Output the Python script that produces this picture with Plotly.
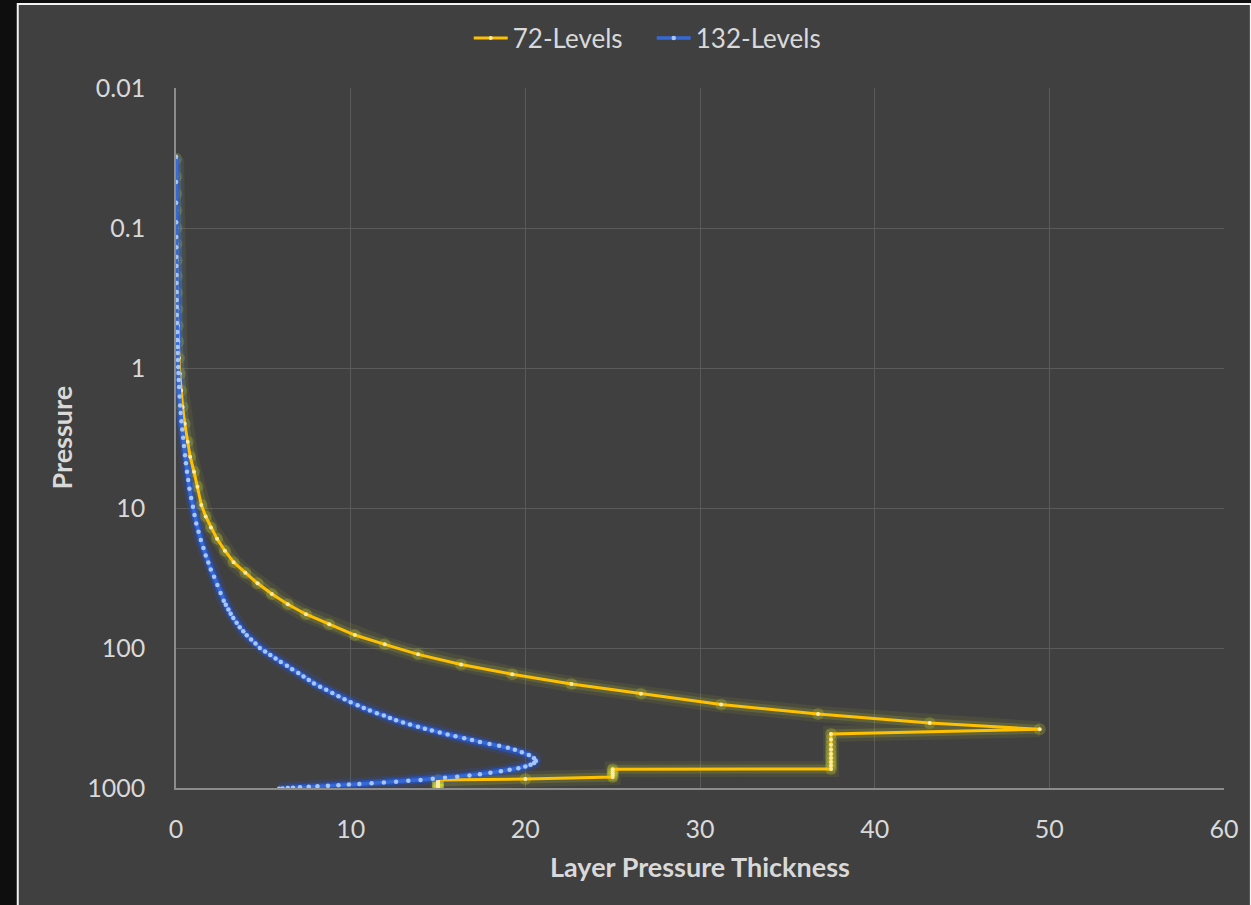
import plotly.graph_objects as go

# ---------------- data ----------------
yellow_p = [0.032, 0.043, 0.057, 0.075, 0.1, 0.13, 0.17, 0.22, 0.29, 0.38, 0.5, 0.65, 0.85, 1.1, 1.45, 1.9, 2.5,
            3.36, 4.3, 5.5, 7.05, 9.5, 11.5, 13.8, 16.6, 20.2, 24.4, 29.0, 34.5, 41.1, 48.7, 57.4, 67.6, 80.8, 94.2,
            111, 131, 154, 181, 212, 253, 296, 343, 381,
            411, 451, 491, 531, 571, 611, 651, 691, 731,
            735, 760, 785, 810, 835,
            862,
            877, 892, 907, 922, 937, 952, 967, 982, 997]
yellow_dp = [0.006, 0.008, 0.011, 0.015, 0.02, 0.026, 0.034, 0.044, 0.058, 0.076, 0.1, 0.13, 0.17, 0.22, 0.29, 0.38, 0.5,
             0.67, 0.81, 1.03, 1.23, 1.45, 1.7, 2.0, 2.35, 2.8, 3.3, 3.97, 4.67, 5.49, 6.4, 7.44, 8.77, 10.24, 11.95,
             13.86, 16.32, 19.25, 22.64, 26.62, 31.21, 36.76, 43.15, 49.45,
             37.5, 37.5, 37.5, 37.5, 37.5, 37.5, 37.5, 37.5, 37.5,
             25, 25, 25, 25, 25,
             20,
             15, 15, 15, 15, 15, 15, 15, 15, 15]

blue_p = [0.031, 0.047, 0.066, 0.091, 0.116, 0.137, 0.161, 0.187, 0.217, 0.247, 0.286, 0.327, 0.366, 0.418,
          0.477, 0.553, 0.631, 0.708, 0.781, 0.877, 0.984, 1.086, 1.219, 1.367,
          1.6, 1.85, 2.1, 2.4, 2.75, 3.15, 3.6, 4.2, 4.8, 5.5, 6.3, 7.3, 8.5, 9.8, 11.2, 12.9, 14.8, 16.9, 19.3,
          21.8, 24.5, 27.5, 31.0, 35.5, 40.5,
          46, 49, 53, 57, 61, 66, 71, 76, 81, 87, 93, 100, 106, 112, 119, 126, 134, 142, 151, 160,
          169, 179, 189, 199, 210, 221, 232, 244, 256, 268, 280, 292, 304, 316, 328, 340, 352, 365, 377, 389,
          401, 414, 427, 441, 455, 469, 484, 499, 515, 532, 556, 582, 612, 641,
          662, 682, 702, 722, 741, 760, 778, 796, 813, 830, 845, 860, 875, 888, 901, 914, 925, 936, 946, 956,
          965, 973, 981, 988, 995, 1002, 1008, 1013]
blue_dp = [0.004, 0.006, 0.009, 0.012, 0.015, 0.018, 0.021, 0.024, 0.028, 0.032, 0.037, 0.043, 0.048, 0.055,
           0.062, 0.072, 0.082, 0.092, 0.102, 0.114, 0.128, 0.141, 0.158, 0.178,
           0.21, 0.24, 0.27, 0.31, 0.36, 0.41, 0.46, 0.52, 0.57, 0.63, 0.7, 0.77, 0.87, 0.97, 1.06, 1.16, 1.29,
           1.42, 1.57, 1.7, 1.85, 1.99, 2.18, 2.37, 2.55,
           2.73, 2.85, 3.0, 3.13, 3.28, 3.47, 3.65, 3.85, 4.05, 4.3, 4.55, 4.8, 5.1, 5.4, 5.7, 6.0, 6.35, 6.65,
           7.0, 7.3, 7.6, 7.9, 8.25, 8.6, 8.95, 9.3, 9.65, 10.0, 10.4, 10.75, 11.1, 11.5, 11.9, 12.25, 12.6,
           13.0, 13.4, 13.85, 14.25, 14.65, 15.1, 15.55, 16.0, 16.5, 16.95, 17.4, 17.95, 18.5, 19.0, 19.4, 19.8,
           20.2, 20.5, 20.6,
           20.5, 20.3, 20.0, 19.6, 19.1, 18.6, 18.0, 17.4, 16.8, 16.1, 15.4, 14.7, 14.0, 13.3, 12.6, 11.9, 11.2,
           10.5, 9.9, 9.3, 8.7, 8.1, 7.6, 7.1, 6.7, 6.4, 6.1, 5.9]

x_ticks = [0, 10, 20, 30, 40, 50, 60]
y_ticks = [0.01, 0.1, 1, 10, 100, 1000]
y_ticktext = ["0.01", "0.1", "1", "10", "100", "1000"]

series_names = ["72-Levels", "132-Levels"]

# ---------------- styling ----------------
FONT = "Lato"
TXT = "#D9D9D9"
BG = "#404040"
W, H = 1251, 905
L, R, T, B = 176, 22, 88, 117
PW, PH = W - L - R, H - T - B


def px_x(px):
    return (px - L) / PW


def px_y(py):
    return (H - B - py) / PH


fig = go.Figure()

# soft glow layers
fig.add_trace(go.Scatter(x=yellow_dp, y=yellow_p, mode="lines+markers",
                         line=dict(color="rgba(190,205,40,0.09)", width=16),
                         marker=dict(size=12, color="rgba(225,235,40,0.2)"),
                         showlegend=False, hoverinfo="skip"))
fig.add_trace(go.Scatter(x=yellow_dp, y=yellow_p, mode="lines",
                         line=dict(color="rgba(205,215,50,0.16)", width=9),
                         showlegend=False, hoverinfo="skip"))
fig.add_trace(go.Scatter(x=blue_dp, y=blue_p, mode="lines",
                         line=dict(color="rgba(40,90,220,0.18)", width=13),
                         showlegend=False, hoverinfo="skip"))
fig.add_trace(go.Scatter(x=blue_dp, y=blue_p, mode="lines",
                         line=dict(color="rgba(35,90,225,0.6)", width=7),
                         showlegend=False, hoverinfo="skip"))

# main series
fig.add_trace(go.Scatter(x=yellow_dp, y=yellow_p, mode="lines+markers", name=series_names[0],
                         line=dict(color="#FFC000", width=3),
                         marker=dict(size=4, color="#FFE9A0")))
fig.add_trace(go.Scatter(x=blue_dp, y=blue_p, mode="lines+markers", name=series_names[1],
                         line=dict(color="#3569D8", width=3.5),
                         marker=dict(size=4.5, color="#A8C6F5")))

fig.update_layout(
    width=W, height=H,
    margin=dict(l=L, r=R, t=T, b=B),
    paper_bgcolor="#0E0E0E",
    plot_bgcolor=BG,
    font=dict(family=FONT, size=25, color=TXT),
    showlegend=True,
    legend=dict(orientation="h", x=px_x(654), xanchor="center", y=px_y(38), yanchor="middle",
                bgcolor="rgba(0,0,0,0)", font=dict(family=FONT, size=26, color=TXT),
                itemwidth=34, entrywidth=134, entrywidthmode="pixels"),
    shapes=[
        dict(type="rect", xref="paper", yref="paper",
             x0=px_x(17), x1=px_x(W + 5), y0=px_y(H + 5), y1=px_y(4),
             fillcolor=BG, line=dict(color="#F2F2F2", width=2), layer="below"),
    ],
    annotations=[
        dict(text="<b>Pressure</b>", xref="paper", yref="paper", x=px_x(60), y=px_y(438),
             textangle=-90, showarrow=False, font=dict(family=FONT, size=27, color=TXT),
             xanchor="center", yanchor="middle"),
        dict(text="<b>Layer Pressure Thickness</b>", xref="paper", yref="paper", x=px_x(703), y=px_y(867),
             showarrow=False, font=dict(family=FONT, size=27, color=TXT),
             xanchor="center", yanchor="middle"),
    ],
)

fig.update_xaxes(range=[0, 60], tickvals=x_ticks, showgrid=True, gridcolor="#5A5A5A", gridwidth=1,
                 zeroline=False, showline=True, linecolor="#8C8C8C", linewidth=1.5, ticks="",
                 tickfont=dict(family=FONT, size=25, color=TXT), ticklabelstandoff=18)
fig.update_yaxes(type="log", range=[3, -2], tickvals=y_ticks, ticktext=y_ticktext, showgrid=True,
                 gridcolor="#5A5A5A", gridwidth=1, zeroline=False, showline=True, linecolor="#8C8C8C",
                 linewidth=1.5, ticks="", tickfont=dict(family=FONT, size=25, color=TXT),
                 ticklabelstandoff=24)

fig.write_html("out.html", config={"displayModeBar": False},
               post_script="document.body.style.margin='0';document.body.style.background='#0E0E0E';"
                           "document.body.style.overflow='hidden';")
